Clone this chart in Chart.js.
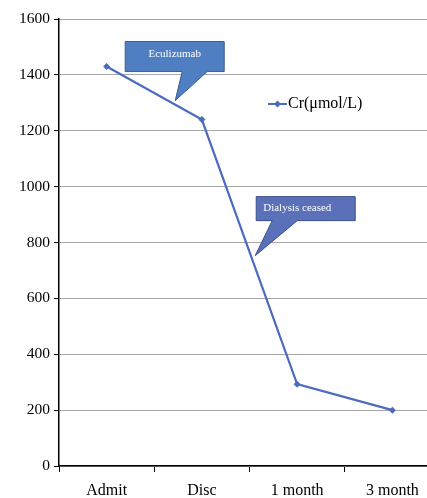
<!DOCTYPE html>
<html>
<head>
<meta charset="utf-8">
<script src="https://cdn.jsdelivr.net/npm/chart.js@4/dist/chart.umd.min.js"></script>
<style>
  html, body { margin: 0; padding: 0; background: #fff; overflow: hidden; }
  #wrap { width: 444px; height: 498px; }
</style>
</head>
<body>
<div id="wrap"><canvas id="c" width="444" height="498"></canvas></div>
<script>
// Serum creatinine over the course of treatment
const categories = ['Admit', 'Disc', '1 month', '3 month'];
const creatinine = [1430, 1240, 293, 200];
const seriesLabel = 'Cr(\u03bcmol/L)';
const yTicks = [0, 200, 400, 600, 800, 1000, 1200, 1400, 1600];

// Callout notes: text and the point (category position, value) the tail points at
const calloutTexts = ['Eculizumab', 'Dialysis ceased'];
const calloutTips = [[0.72, 1308], [1.56, 753]];

const lineColor = '#4b6cbe';
const serif = "'Liberation Serif', 'Times New Roman', serif";

const callouts = {
  id: 'callouts',
  afterDatasetsDraw(chart) {
    const ctx = chart.ctx;
    const xs = chart.scales.x, ys = chart.scales.y;
    const boxes = [
      { fill: '#4f7fc2', stroke: '#385d8a', dx: [-50, 49], dy: [-59, -29], tail: [57, 82], font: 11 },
      { fill: '#5a70b8', stroke: '#3b4f8c', dx: [1, 100], dy: [-59, -35], tail: [16, 41], font: 11 }
    ];
    calloutTexts.forEach((txt, i) => {
      const tx = xs.getPixelForValue(calloutTips[i][0]);
      const ty = ys.getPixelForValue(calloutTips[i][1]);
      const b = boxes[i];
      const left = tx + b.dx[0], right = tx + b.dx[1];
      const top = ty + b.dy[0], bottom = ty + b.dy[1];
      ctx.save();
      ctx.beginPath();
      ctx.moveTo(left, top);
      ctx.lineTo(right, top);
      ctx.lineTo(right, bottom);
      ctx.lineTo(left + b.tail[1], bottom);
      ctx.lineTo(tx, ty);
      ctx.lineTo(left + b.tail[0], bottom);
      ctx.lineTo(left, bottom);
      ctx.closePath();
      ctx.fillStyle = b.fill;
      ctx.fill();
      ctx.lineWidth = 1;
      ctx.strokeStyle = b.stroke;
      ctx.stroke();
      ctx.fillStyle = '#ffffff';
      ctx.font = b.font + 'px ' + serif;
      ctx.textBaseline = 'middle';
      if (i === 0) {
        ctx.textAlign = 'center';
        ctx.fillText(txt, (left + right) / 2, top + 13);
      } else {
        ctx.textAlign = 'left';
        ctx.fillText(txt, left + 7, (top + bottom) / 2 - 1);
      }
      ctx.restore();
    });

    // Legend entry
    const lx = 268, ly = 104;
    ctx.save();
    ctx.strokeStyle = lineColor;
    ctx.lineWidth = 2;
    ctx.beginPath();
    ctx.moveTo(lx, ly);
    ctx.lineTo(lx + 19, ly);
    ctx.stroke();
    ctx.fillStyle = lineColor;
    ctx.beginPath();
    ctx.moveTo(lx + 9.5, ly - 3.5);
    ctx.lineTo(lx + 13, ly);
    ctx.lineTo(lx + 9.5, ly + 3.5);
    ctx.lineTo(lx + 6, ly);
    ctx.closePath();
    ctx.fill();
    ctx.fillStyle = '#000';
    ctx.font = '16px ' + serif;
    ctx.textBaseline = 'middle';
    ctx.textAlign = 'left';
    ctx.fillText(seriesLabel, lx + 20, ly);
    ctx.restore();
  }
};

new Chart(document.getElementById('c'), {
  type: 'line',
  data: {
    labels: categories,
    datasets: [{
      label: seriesLabel,
      data: creatinine,
      borderColor: lineColor,
      backgroundColor: lineColor,
      borderWidth: 2.2,
      pointStyle: 'rectRot',
      pointRadius: 3.5,
      pointBorderWidth: 0,
      tension: 0
    }]
  },
  options: {
    responsive: false,
    animation: false,
    layout: { padding: { top: 19, right: 0, left: 0, bottom: 0 } },
    plugins: { legend: { display: false }, tooltip: { enabled: false } },
    scales: {
      x: {
        offset: true,
        grid: { offset: true, drawOnChartArea: false, color: '#000', tickLength: 6, tickWidth: 1 },
        border: { color: '#000', width: 1.5 },
        ticks: { color: '#000', font: { family: serif, size: 16 }, padding: 9, maxRotation: 0 },
        afterFit(s) { s.height = 32; }
      },
      y: {
        min: 0, max: 1600,
        afterBuildTicks(s) { s.ticks = yTicks.map(v => ({ value: v })); },
        grid: { color: '#a6a6a6', lineWidth: 1, tickLength: 5, tickColor: '#000' },
        border: { color: '#000', width: 1.5 },
        ticks: { color: '#000', font: { family: serif, size: 15.5 }, padding: 4, callback: v => String(v) },
        afterFit(s) { s.width = 59; }
      }
    }
  },
  plugins: [callouts]
});
</script>
</body>
</html>
